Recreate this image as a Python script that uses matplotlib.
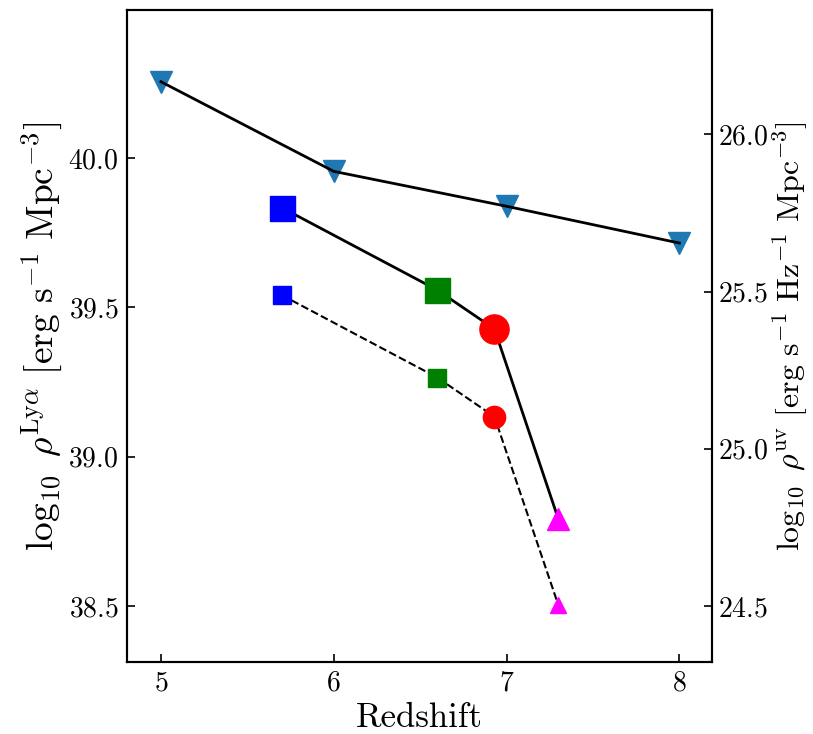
import matplotlib
matplotlib.use("Agg")
import matplotlib.pyplot as plt

plt.rcParams['font.family'] = 'serif'
plt.rcParams['font.serif'] = ['cmr10', 'DejaVu Serif']
plt.rcParams['mathtext.fontset'] = 'cm'
plt.rcParams['axes.formatter.use_mathtext'] = True

# UV luminosity density (right axis)
z_uv = [5, 6, 7, 8]
rho_uv = [26.167, 25.882, 25.771, 25.654]

# Lya luminosity density (left axis): total (solid) and observed (dashed)
z_lya = [5.7, 6.6, 6.93, 7.3]
rho_lya_tot = [39.834, 39.558, 39.428, 38.791]
rho_lya_obs = [39.541, 39.265, 39.134, 38.503]
cols = ['blue', 'green', 'red', 'magenta']
marks = ['s', 's', 'o', '^']
ms_big = [18, 18, 21, 16]
ms_small = [13, 13, 16, 11.5]

fig = plt.figure(figsize=(8.13, 7.34), dpi=100)
ax = fig.add_axes([0.156, 0.098, 0.72, 0.888])

ax.plot(z_lya, rho_lya_tot, '-', color='k', lw=2, zorder=1)
ax.plot(z_lya, rho_lya_obs, '--', color='k', lw=1.5, zorder=1)
for i in range(len(z_lya)):
    ax.plot(z_lya[i], rho_lya_tot[i], marks[i], color=cols[i], ms=ms_big[i], zorder=2)
    ax.plot(z_lya[i], rho_lya_obs[i], marks[i], color=cols[i], ms=ms_small[i], zorder=2)

ax.set_xlim(4.803, 8.19)
ax.set_ylim(38.3125, 40.495)
ax.set_xticks([5, 6, 7, 8])
ax.set_yticks([38.5, 39.0, 39.5, 40.0])
ax.set_xlabel('Redshift', fontsize=25, labelpad=4)
ax.set_ylabel(r'$\log_{10}\ \rho^{\rm Ly\alpha}\ [{\rm erg\ s^{-1}\ Mpc^{-3}}]$', fontsize=27, labelpad=2)

ax2 = ax.twinx()
ax2.plot(z_uv, rho_uv, 'v', color='tab:blue', ms=16, zorder=1)
ax2.plot(z_uv, rho_uv, '-', color='k', lw=2, zorder=2)
ax2.set_ylim(24.322, 26.394)
ax2.set_yticks([24.5, 25.0, 25.5, 26.0])
ax2.set_ylabel(r'$\log_{10}\ \rho^{\rm uv}\ [{\rm erg\ s^{-1}\ Hz^{-1}\ Mpc^{-3}}]$', fontsize=23)

for a in (ax, ax2):
    a.tick_params(direction='in', length=6, width=1.2, labelsize=20, pad=6)
    for s in a.spines.values():
        s.set_linewidth(1.5)
ax.tick_params(right=False, top=False)
ax2.tick_params(pad=4)
ax2.yaxis.set_label_coords(1.1, 0.5)

fig.savefig('out.png', dpi=100)
